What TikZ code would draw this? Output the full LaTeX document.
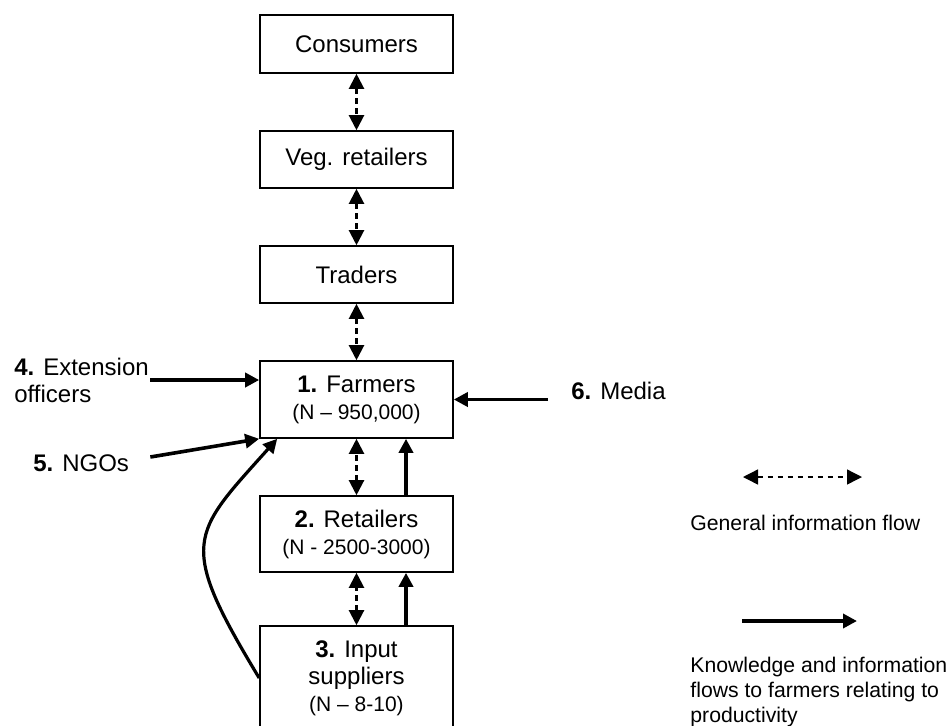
\documentclass[tikz,border=0pt]{standalone}
\usepackage{fontspec}
\setmainfont{Liberation Sans}
\usetikzlibrary{arrows.meta}
\newcommand{\nsmall}{\fontsize{10.5}{12}\selectfont}

\begin{document}
\begin{tikzpicture}[x=0.5pt,y=-0.5pt,
	box/.style={draw, line width=0.8pt, minimum width=96.5pt, align=center, inner sep=0pt, font=\fontsize{12}{13.5}\selectfont},
	gen/.style={{Triangle[length=7.5pt,width=7.5pt]}-{Triangle[length=7.5pt,width=7.5pt]}, line width=1.1pt, dash pattern=on 3pt off 2pt},
	know/.style={-{Triangle[length=7pt,width=7pt]}, line width=1.8pt},
	lbl/.style={inner sep=0.5pt, align=left, font=\fontsize{12}{13.5}\selectfont},
	leg/.style={inner sep=0pt, align=left, font=\fontsize{10.6}{12.5}\selectfont}]
			\useasboundingbox (0,0) rectangle (949,725);
			% the chain
			\node[box, minimum height=29pt] (cons) at (356.5,44) {Consumers};
			\node[box, minimum height=28.5pt] (veg) at (356.5,159.5) {Veg. retailers};
			\node[box, minimum height=28.5pt] (trad) at (356.5,274.5) {Traders};
			\node[box, minimum height=38.5pt] (farm) at (356.5,399.5) {\textbf{1.} Farmers\\{\nsmall (N \textendash{} 950,000)}};
			\node[box, minimum height=38pt] (retail) at (356.5,534) {\textbf{2.} Retailers\\{\nsmall (N - 2500-3000)}};
			\node[box, minimum height=52pt] (input) at (356.5,678) {\textbf{3.} Input\\suppliers\\{\nsmall (N \textendash{} 8-10)}};
			\draw[gen] (cons) -- (veg);
			\draw[gen] (veg) -- (trad);
			\draw[gen] (trad) -- (farm);
			\draw[gen] (retail) -- (farm);
			\draw[gen] (input) -- (retail);
			\draw[know] ([xshift=24.75pt]retail.north) -- ([xshift=24.75pt]farm.south);
			\draw[know] ([xshift=24.75pt]input.north) -- ([xshift=24.75pt]retail.south);
			% other sources
			\node[lbl, anchor=west] (ext) at (13,380) {\textbf{4.} Extension\\officers};
			\node[lbl, anchor=west] (ngo) at (32,463) {\textbf{5.} NGOs};
			\node[lbl, anchor=west] (media) at (570,391) {\textbf{6.} Media};
			\draw[know] (ext.east) -- (ext.east -| farm.west);
			\draw[know] ([xshift=10pt,yshift=3pt]ngo.east) -- (farm.south west);
			\draw[know] ([xshift=-11pt,yshift=-4.25pt]media.west) -- (farm.east);
			\draw[know, line width=1.6pt] (input.west) .. controls (177,542) and (191,535) .. ([xshift=9pt]farm.south west);
			% legend
			\coordinate (g1) at (743,477);
			\coordinate (g2) at (862,477);
			\draw[gen, line width=0.7pt, dash pattern=on 2.5pt off 2.5pt] (g1) -- (g2);
			\node[leg, anchor=west] (lgen) at (690,523) {General information flow};
			\coordinate (k1) at (742,621);
			\coordinate (k2) at (857,621);
			\draw[know] (k1) -- (k2);
			\node[leg, anchor=west] (lknow) at (690,692) {Knowledge and information\\flows to farmers relating to\\productivity};
		\end{tikzpicture}
\end{document}
